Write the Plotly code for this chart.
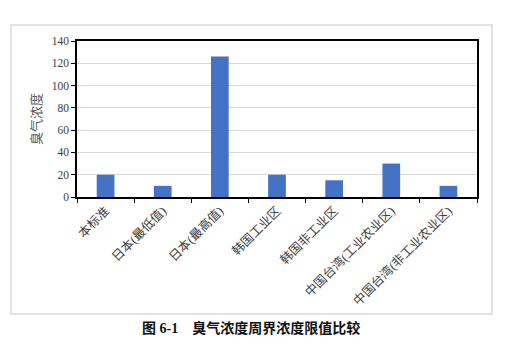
import plotly.graph_objects as go

categories = ["本标准", "日本(最低值)", "日本(最高值)", "韩国工业区", "韩国非工业区",
              "中国台湾(工业农业区)", "中国台湾(非工业农业区)"]
values = [20, 10, 126, 20, 15, 30, 10]
y_ticks = [0, 20, 40, 60, 80, 100, 120, 140]
y_title = "臭气浓度"
caption = "图 6-1    臭气浓度周界浓度限值比较"

font_family = "Liberation Serif, Noto Sans CJK SC, serif"

fig = go.Figure()
fig.add_trace(go.Bar(x=categories, y=values, marker=dict(color="#4472C4", line=dict(width=0)),
                     width=0.31))

fig.update_layout(
    width=523, height=345,
    margin=dict(l=77, r=46, t=41, b=148),
    paper_bgcolor="white", plot_bgcolor="white",
    showlegend=False,
    font=dict(family=font_family, size=11, color="#404040"),
    xaxis=dict(
        tickangle=-45, tickson="boundaries", ticks="outside", ticklen=4, tickcolor="black",
        showline=True, linecolor="black", linewidth=1.5, mirror=True,
        tickfont=dict(family=font_family, size=12.5, color="#404040"),
        showgrid=False,
    ),
    yaxis=dict(
        range=[0, 140], tickvals=y_ticks, ticks="outside", ticklen=4, tickcolor="black",
        showline=True, linecolor="black", linewidth=1.5, mirror=True,
        gridcolor="#d9d9d9", gridwidth=1,
        tickfont=dict(family=font_family, size=11.5, color="#404040"),
        title=dict(text=y_title, font=dict(family=font_family, size=13, color="#595959"), standoff=7),
        zeroline=False,
    ),
    shapes=[dict(type="rect", xref="paper", yref="paper",
                 x0=-66/400, x1=415/400, y0=1 + 16/156, y1=-117/156,
                 line=dict(color="#d9d9d9", width=1.5), fillcolor="rgba(0,0,0,0)", layer="below")],
    annotations=[dict(text="<b>" + caption + "</b>", xref="paper", yref="paper",
                      x=(251 - 77) / 400, y=-(328 - 197) / 156, showarrow=False,
                      xanchor="center", yanchor="middle",
                      font=dict(family="Liberation Serif, Noto Sans CJK SC, serif", size=14, color="#111111"))],
)

fig.write_html("out.html")
